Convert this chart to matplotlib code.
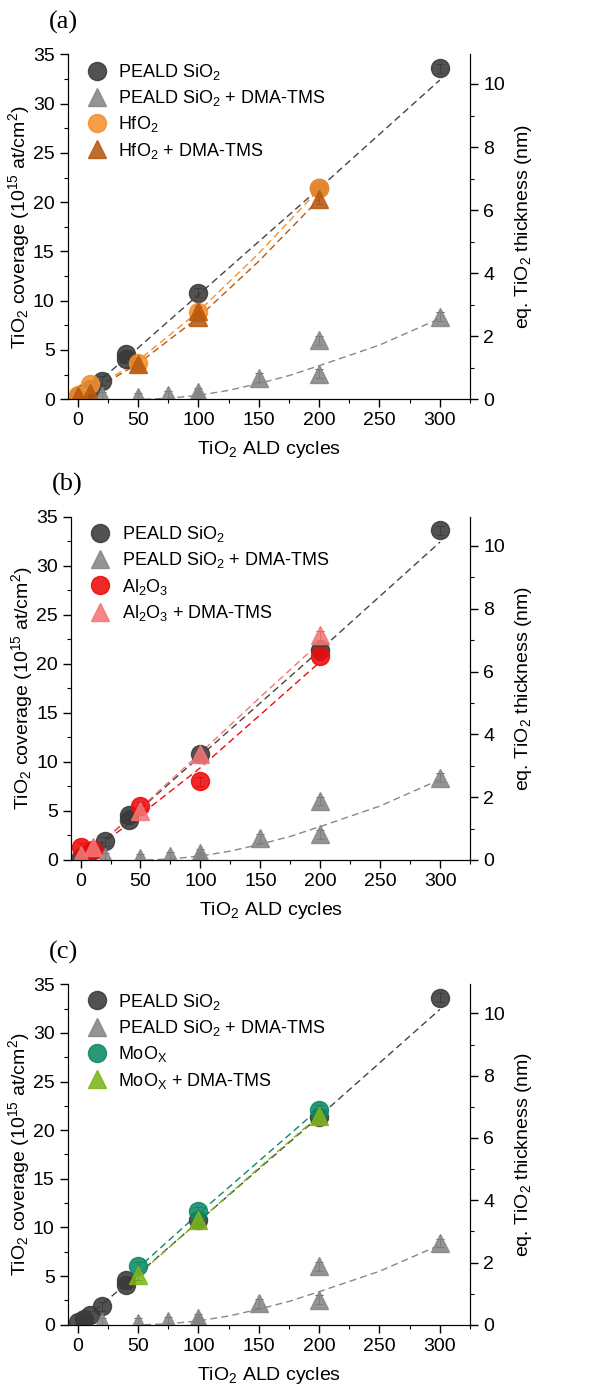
import matplotlib
matplotlib.use("Agg")
import matplotlib.pyplot as plt
from matplotlib.ticker import MultipleLocator

plt.rcParams["font.family"] = ["Liberation Sans", "DejaVu Sans"]
plt.rcParams["mathtext.default"] = "regular"
plt.rcParams["font.size"] = 13

# reference series, same in all three panels
sio2_x = [0, 5, 10, 20, 40, 40, 100, 200, 300]
sio2_y = [0.3, 0.6, 1.0, 1.9, 4.6, 4.1, 10.8, 21.4, 33.6]
dma_x = [20, 50, 75, 100, 100, 150, 200, 200, 300]
dma_y = [0.3, 0.2, 0.4, 0.7, 0.3, 2.2, 6.0, 2.6, 8.4]

# fit curves
sio2_fit_x = [0, 50, 100, 150, 200, 250, 300]
sio2_fit_y = [0, 5.2, 10.6, 16.0, 21.4, 26.9, 32.4]
dma_fit_x = [55, 75, 100, 125, 150, 175, 200, 250, 300]
dma_fit_y = [0, 0.1, 0.4, 0.9, 1.6, 2.4, 3.4, 5.5, 8.2]

# panel (a): HfO2
hf_x = [0, 10, 50, 100, 200]
hf_y = [0.4, 1.5, 3.7, 8.9, 21.4]
hf_dma_x = [0, 10, 50, 100, 100, 200]
hf_dma_y = [0.3, 0.6, 3.6, 8.4, 9.0, 20.3]
hf_fit_x = [0, 50, 100, 150, 200]
hf_fit_y = [0, 3.9, 8.9, 14.8, 21.3]
hf_dma_fit_y = [0, 3.6, 8.3, 14.0, 20.3]

# panel (b): Al2O3
al_x = [0, 10, 50, 100, 200]
al_y = [1.3, 1.0, 5.5, 8.0, 20.8]
al_dma_x = [0, 10, 50, 100, 200]
al_dma_y = [0.5, 1.3, 5.0, 10.8, 22.9]
al_fit_x = [0, 50, 100, 150, 200]
al_fit_y = [0, 4.6, 9.4, 14.8, 20.2]
al_dma_fit_y = [0, 5.3, 10.9, 16.6, 22.2]

# panel (c): MoOx
mo_x = [50, 100, 200]
mo_y = [6.0, 11.7, 22.1]
mo_dma_x = [50, 100, 200]
mo_dma_y = [5.1, 10.8, 21.5]
mo_fit_x = [48, 100, 150, 200]
mo_fit_y = [5.6, 11.4, 16.8, 22.2]
mo_dma_fit_y = [4.9, 10.6, 16.1, 21.5]

err = 0.45
nm_per_cov = 3.2  # 10^15 at/cm2 per nm TiO2

panels = [
    ("(a)", [0.111, 0.714, 0.657, 0.247],
     "HfO$_2$", "#f5902f", hf_x, hf_y, hf_fit_x, hf_fit_y,
     "HfO$_2$ + DMA-TMS", "#b85a10", hf_dma_x, hf_dma_y, hf_fit_x, hf_dma_fit_y),
    ("(b)", [0.116, 0.384, 0.652, 0.246],
     "Al$_2$O$_3$", "#ee0a0a", al_x, al_y, al_fit_x, al_fit_y,
     "Al$_2$O$_3$ + DMA-TMS", "#f57575", al_dma_x, al_dma_y, al_fit_x, al_dma_fit_y),
    ("(c)", [0.111, 0.051, 0.657, 0.244],
     "MoO$_X$", "#0a8a66", mo_x, mo_y, mo_fit_x, mo_fit_y,
     "MoO$_X$ + DMA-TMS", "#7db51c", mo_dma_x, mo_dma_y, mo_fit_x, mo_dma_fit_y),
]

fig = plt.figure(figsize=(6.12, 13.96), dpi=100)


def series(ax, x, y, marker, color, label):
    ax.errorbar(x, y, yerr=err, fmt="none", ecolor="#333333", elinewidth=0.6,
                capsize=3, capthick=0.6, zorder=3)
    ax.plot(x, y, marker, ms=13, color=color, mec=color, alpha=0.88,
            label=label, zorder=4)


for (tag, rect, l1, c1, x1, y1, fx1, fy1, l2, c2, x2, y2, fx2, fy2) in panels:
    ax = fig.add_axes(rect)
    ax.plot(sio2_fit_x, sio2_fit_y, "--", color="#444444", lw=1, dashes=(5, 3), zorder=2)
    ax.plot(dma_fit_x, dma_fit_y, "--", color="#888888", lw=1, dashes=(5, 3), zorder=2)
    ax.plot(fx1, fy1, "--", color=c1, lw=1, dashes=(5, 3), zorder=2)
    ax.plot(fx2, fy2, "--", color=c2, lw=1, dashes=(5, 3), zorder=2)

    series(ax, sio2_x, sio2_y, "o", "#3a3a3a", "PEALD SiO$_2$")
    series(ax, dma_x, dma_y, "^", "#858585", "PEALD SiO$_2$ + DMA-TMS")
    series(ax, x1, y1, "o", c1, l1)
    series(ax, x2, y2, "^", c2, l2)

    ax.set_xlim(-8, 325)
    ax.set_ylim(0, 35)
    ax.xaxis.set_major_locator(MultipleLocator(50))
    ax.xaxis.set_minor_locator(MultipleLocator(25))
    ax.yaxis.set_major_locator(MultipleLocator(5))
    ax.yaxis.set_minor_locator(MultipleLocator(2.5))
    ax.spines["top"].set_visible(False)
    ax.tick_params(which="major", direction="out", length=6, width=1, labelsize=14)
    ax.tick_params(which="minor", direction="out", length=3, width=0.8)
    ax.set_xlabel("TiO$_2$ ALD cycles", fontsize=14, labelpad=7)
    ax.set_ylabel("TiO$_2$ coverage (10$^{15}$ at/cm$^2$)", fontsize=14, labelpad=1)

    ax2 = ax.twinx()
    ax2.set_ylim(0, 35 / nm_per_cov)
    ax2.yaxis.set_major_locator(MultipleLocator(2))
    ax2.yaxis.set_minor_locator(MultipleLocator(1))
    ax2.spines["top"].set_visible(False)
    ax2.tick_params(which="major", direction="out", length=6, width=1, labelsize=14)
    ax2.tick_params(which="minor", direction="out", length=3, width=0.8)
    ax2.set_ylabel("eq. TiO$_2$ thickness (nm)", fontsize=14, labelpad=6)

    ax.legend(loc="upper left", frameon=False, fontsize=13, handletextpad=0.2,
              labelspacing=0.35, borderaxespad=0.2, bbox_to_anchor=(0.0, 1.01))

    ax.text(-0.01, 1.06, tag, transform=ax.transAxes, family="Liberation Serif",
            fontsize=19, ha="center", va="bottom")

fig.savefig("out.png", dpi=100)
